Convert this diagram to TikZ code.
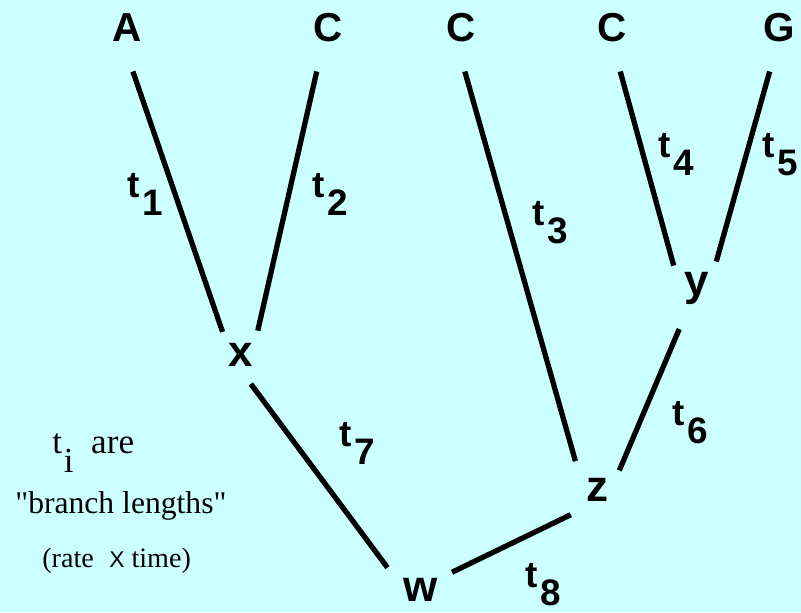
\documentclass[tikz,border=0pt]{standalone}
\usepackage{fontspec}
\setmainfont{Liberation Serif}
\setsansfont{Liberation Sans}
\usetikzlibrary{positioning}
\definecolor{paleCyan}{RGB}{204,255,255}
\newcommand{\brlen}[1]{t\kern0.08em\raisebox{-0.5em}{#1}}

\begin{document}
\begin{tikzpicture}[x=0.02cm, y=-0.02cm]
\tikzset{
    leaf/.style={rectangle, inner sep=0pt, outer sep=0pt, minimum width=1cm, minimum height=1.76cm, text height=16.5pt, text depth=0pt, font=\sffamily\bfseries\fontsize{23}{27}\selectfont},
    anc/.style={circle, inner sep=0pt, outer sep=0pt, minimum size=1.2cm, text height=13pt, text depth=0pt, font=\sffamily\bfseries\fontsize{25}{30}\selectfont},
    len/.style={anchor=base west, inner sep=0pt, font=\sffamily\bfseries\fontsize{21}{25}\selectfont},
    note/.style={anchor=base west, inner sep=0pt},
    branch/.style={line width=3pt}
}
\fill[paleCyan] (0,0) rectangle (801,612);
\useasboundingbox (0,0) rectangle (801,612);

% leaves
\node[leaf] (leafA) at (127.5,27.5) {A};
\node[leaf] (leafC1) at (328.5,27.5) {C};
\node[leaf] (leafC2) at (461,27.5) {C};
\node[leaf] (leafC3) at (612.5,27.5) {C};
\node[leaf] (leafG) at (779,27.5) {G};

% ancestors
\node[anc] (nodex) at (241,355.5) {x};
\node[anc] (nodey) at (697,284.5) {y};
\node[anc] (nodez) at (597,490.5) {z};
\node[anc] (nodew) at (420.5,590.5) {w};

% branches
\draw[branch] (leafA.-83) -- (nodex.128);
\draw[branch] (leafC1.-105) -- (nodex.56);
\draw[branch, shorten >=0.14cm] (leafC2.-85) -- (nodez.131);
\draw[branch] (leafC3.-80) -- (nodey.141);
\draw[branch] (leafG.-102) -- (nodey.50);
\draw[branch, shorten <=0.36cm] (nodey.-111) -- (nodez.42);
\draw[branch, shorten >=0.22cm] (nodex.-71) -- (nodew.152);
\draw[branch, shorten <=0.12cm, shorten >=0.13cm] (nodez.-134) -- (nodew.31);

% branch lengths
\node[len] (len1) at (127,197) {\brlen{1}};
\node[len] (len2) at (312,197) {\brlen{2}};
\node[len] (len3) at (532,225) {\brlen{3}};
\node[len] (len4) at (658,157) {\brlen{4}};
\node[len] (len5) at (762,157) {\brlen{5}};
\node[len] (len6) at (672,425) {\brlen{6}};
\node[len] (len7) at (339,446) {\brlen{7}};
\node[len] (len8) at (525,587) {\brlen{8}};

% note
\node[note, font=\fontsize{20}{24}\selectfont] (note1) at (52,453) {t\kern0.05em\raisebox{-0.55em}{i}\hspace{0.5em}are};
\node[note, font=\fontsize{18}{22}\selectfont\addfontfeatures{Ligatures=TeXOff}] (note2) at (15,513) {"branch lengths"};
\node[note, font=\fontsize{16}{19}\selectfont] (note3) at (42,567) {(rate\hspace{0.55em}{\sffamily\fontsize{13}{15}\selectfont X} time)};
\end{tikzpicture}
\end{document}
